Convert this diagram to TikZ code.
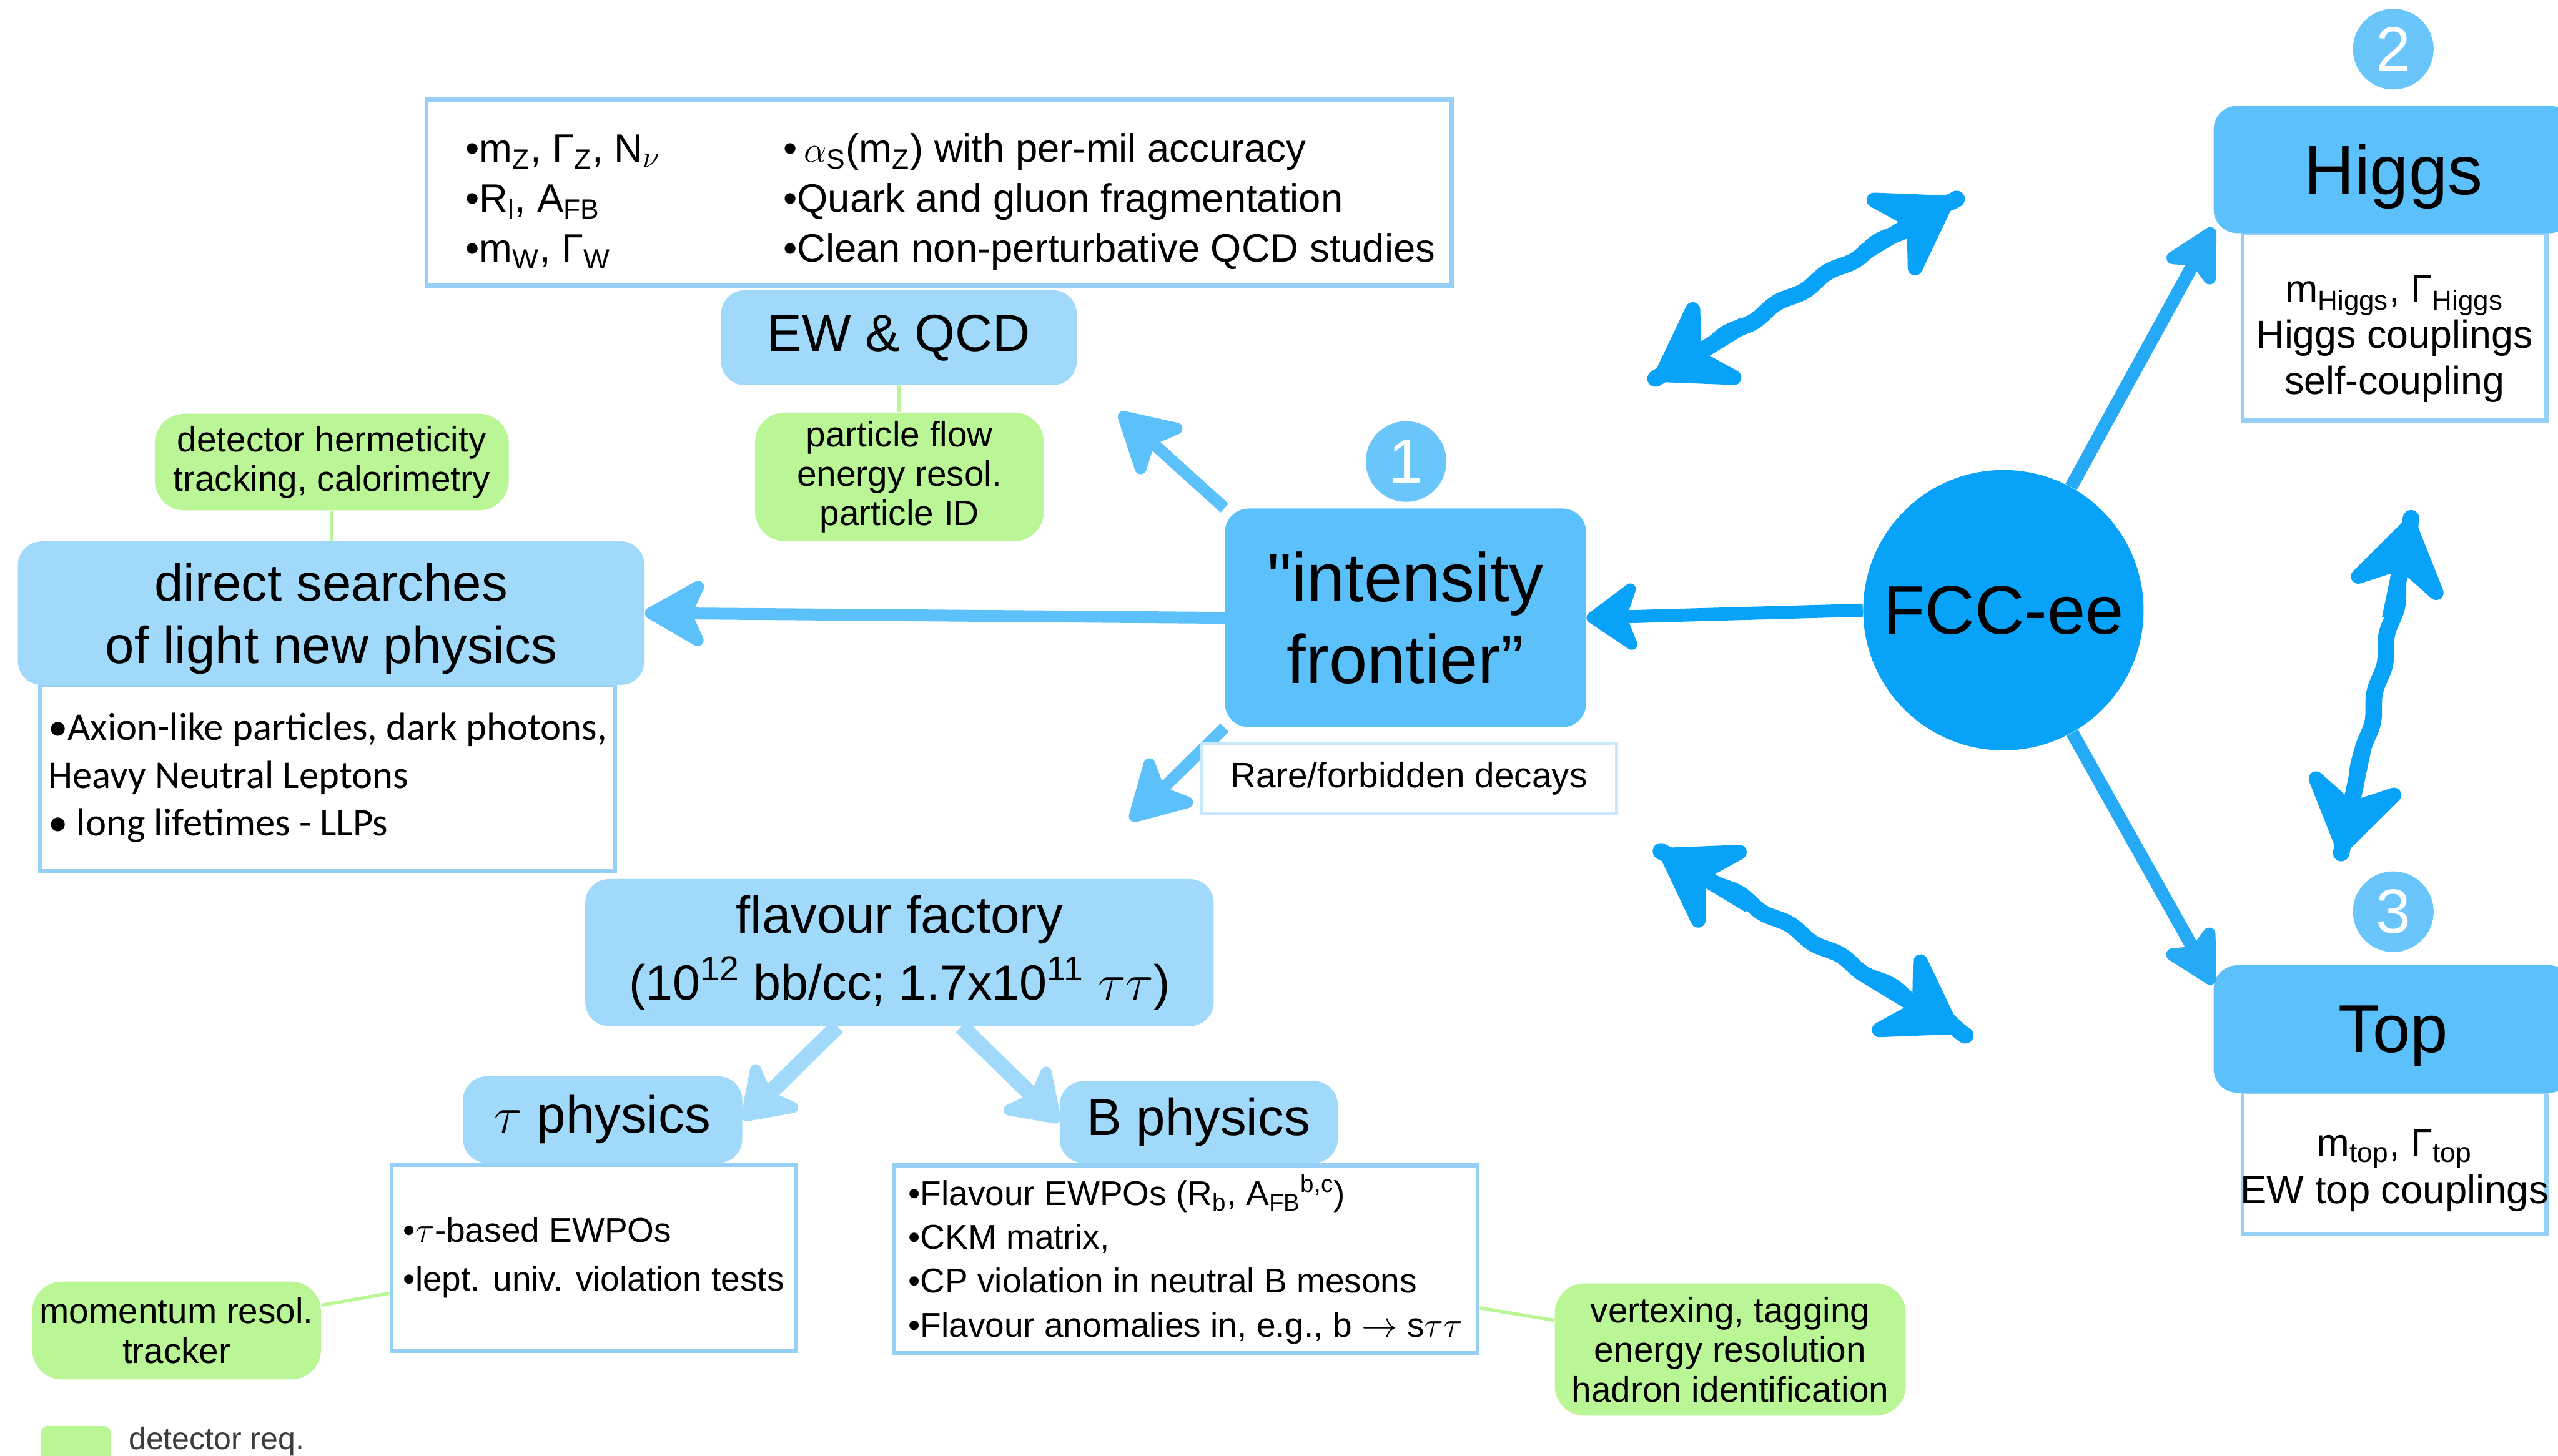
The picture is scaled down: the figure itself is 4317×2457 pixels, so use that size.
\documentclass[tikz,border=0pt]{standalone}
\usepackage{fontspec}
\setmainfont{Liberation Sans}[Ligatures=TeXOff]
\newfontfamily\calfont{Carlito}
\usepackage{tikz}
\usetikzlibrary{arrows.meta,decorations.pathmorphing,shapes,calc}

\definecolor{fccblue}{RGB}{8,163,248}
\definecolor{midblue}{RGB}{92,192,251}
\definecolor{numblue}{RGB}{106,197,250}
\definecolor{paleblue}{RGB}{160,217,250}
\definecolor{edgeblue}{RGB}{150,208,247}
\definecolor{rareedge}{RGB}{200,232,252}
\definecolor{reqgreen}{RGB}{186,246,150}
\definecolor{linkblue}{RGB}{38,170,246}
\definecolor{legendgray}{RGB}{60,60,60}

\newcommand{\fsize}[2]{\fontsize{#1}{#2}\selectfont}

\begin{document}
\begin{tikzpicture}[x=0.01cm, y=-0.01cm,
  decoration={snake, amplitude=0.035cm, segment length=1cm, pre length=1.1cm, post length=1.1cm},
  topic/.style={fill=paleblue, rounded corners=0.4cm, inner sep=0pt, align=center},
  hub/.style={fill=midblue, rounded corners=0.4cm, inner sep=0pt, align=center},
  listbox/.style={draw=edgeblue, line width=2pt, fill=white, inner sep=0pt},
  req/.style={fill=reqgreen, rounded corners=0.5cm, inner sep=0pt, align=center, font=\fsize{17}{19}},
  num/.style={circle, fill=numblue, text=white, inner sep=0pt, minimum size=1.36cm, font=\fsize{30}{30}},
  reqlink/.style={draw=reqgreen, line width=1.6pt},
  push/.style={color=midblue, line width=0.2cm, -{Stealth[length=1.2cm, width=1.35cm, inset=0.3cm, round]}},
  feed/.style={color=fccblue, line width=0.22cm, -{Stealth[length=1cm, width=1.4cm, inset=0.25cm, round]}},
  outward/.style={color=linkblue, line width=0.22cm, -{Stealth[length=1.1cm, width=1.15cm, inset=0.25cm, round]}},
  split/.style={color=paleblue, line width=0.27cm, -{Stealth[length=1cm, width=1.35cm, inset=0.25cm, round]}},
  wobble/.style={color=fccblue, line width=0.28cm, line cap=round, decorate},
  wtip/.style={color=fccblue, line width=0.28cm, -{Stealth[length=1.6cm, width=2.1cm, inset=0.6cm, round]}}
]
  \useasboundingbox (0,0) rectangle (4317,2457);
  \clip (0,0) rectangle (4317,2457);

  % EW and QCD
  \node[listbox, minimum width=17.29cm, minimum height=3.14cm] (ewlist) at (1585,325) {};
  \node[anchor=west, inner sep=0pt, font=\fsize{19}{24}] (ewtext) at (785,341) {%
    \begin{tabular}{@{}p{5.36cm}@{}l@{}}
      •m\textsubscript{Z}, Γ\textsubscript{Z}, N\textsubscript{$\nu$} & •\,$\alpha$\textsubscript{S}(m\textsubscript{Z}) with per-mil accuracy \\
      •R\textsubscript{l}, A\textsubscript{FB} & •Quark and gluon fragmentation \\
      •m\textsubscript{W}, Γ\textsubscript{W} & •Clean non-perturbative QCD studies
    \end{tabular}};
  \node[topic, minimum width=6cm, minimum height=1.6cm, font=\fsize{25}{30}] (ewqcd) at (1517,570) {EW \& QCD};
  \node[req, minimum width=4.87cm, minimum height=2.17cm] (pflow) at (1518,805) {particle flow\\energy resol.\\particle ID};

  % direct searches
  \node[req, minimum width=5.97cm, minimum height=1.63cm] (herm) at (560,780) {detector hermeticity\\tracking, calorimetry};
  \node[listbox, minimum width=9.69cm, minimum height=3.14cm, align=left, font=\calfont\fsize{18.8}{23}] (axlist) at (553,1313)
    {•Axion-like particles, dark photons,\\Heavy Neutral Leptons\\• long lifetimes - LLPs};
  \node[topic, minimum width=10.57cm, minimum height=2.42cm, text depth=0pt, font=\fsize{25}{30}] (direct) at (559,1035) {direct searches\\of light new physics};

  % intensity frontier and FCC-ee
  \node[hub, minimum width=6.09cm, minimum height=3.69cm, font=\fsize{33}{39}] (intens) at (2372,1043) {"intensity\\frontier”};
  \node[num] (one) at (2373,779) {1};
  \node[circle, fill=fccblue, minimum size=4.73cm, inner sep=0pt, font=\fsize{33}{33}] (fcc) at (3381,1030) {FCC-ee};

  % Higgs and top
  \node[listbox, minimum width=5.12cm, minimum height=3.16cm] (higgslist) at (4041,552) {};
  \node[align=center, inner sep=0pt, font=\fsize{18.8}{22}] (higgstext) at (4041,572)
    {m\textsubscript{Higgs}, Γ\textsubscript{Higgs}\\Higgs couplings\\self-coupling};
  \node[hub, minimum width=6.06cm, minimum height=2.15cm, text depth=0pt, font=\fsize{33.5}{33.5}] (higgs) at (4039,286) {Higgs};
  \node[num] (two) at (4039,83) {2};
  \node[listbox, minimum width=5.12cm, minimum height=2.39cm] (toplist) at (4041,1964) {};
  \node[align=center, inner sep=0pt, font=\fsize{19}{22.5}] (toptext) at (4041,1976)
    {m\textsubscript{top}, Γ\textsubscript{top}\\EW top couplings};
  \node[hub, minimum width=6.06cm, minimum height=2.15cm, text depth=0pt, font=\fsize{32.5}{32.5}] (top) at (4039,1737) {Top};
  \node[num] (three) at (4039,1539) {3};

  % flavour
  \node[topic, minimum width=10.6cm, minimum height=2.48cm, font=\fsize{25}{32}] (flav) at (1518,1608)
    {flavour factory\\{\fsize{23.7}{32}(10\textsuperscript{12} bb/cc; 1.7x10\textsuperscript{11} $\tau\tau$)}};
  \node[listbox, minimum width=6.82cm, minimum height=3.14cm, align=left, font=\fsize{16.5}{23.5}] (taulist) at (1002,2123)
    {•$\tau$-based EWPOs\\•lept. univ. violation tests};
  \node[listbox, minimum width=9.85cm, minimum height=3.17cm, align=left, font=\fsize{16.5}{21}] (blist) at (2001,2126)
    {•Flavour EWPOs (R\textsubscript{b}, A\textsubscript{FB}\textsuperscript{b,c})\\•CKM matrix,\\•CP violation in neutral B mesons\\•Flavour anomalies in, e.g., b $\rightarrow$ s$\tau\tau$};
  \node[topic, minimum width=4.71cm, minimum height=1.46cm, font=\fsize{25}{30}] (tau) at (1017,1890) {$\tau$ physics};
  \node[topic, minimum width=4.69cm, minimum height=1.38cm, font=\fsize{25}{30}] (bphys) at (2023,1894) {B physics};
  \node[req, minimum width=4.87cm, minimum height=1.65cm] (mom) at (298,2246) {momentum resol.\\tracker};
  \node[req, minimum width=5.92cm, minimum height=2.23cm] (vtx) at (2920,2278) {vertexing, tagging\\energy resolution\\hadron identification};

  % legend
  \node[fill=reqgreen, rounded corners=0.12cm, minimum width=1.18cm, minimum height=0.62cm] (swatch) at (128,2438) {};
  \node[anchor=west, text=legendgray, font=\fsize{15}{15}] (legend) at (205,2433) {detector req.};

  \coordinate (upleft) at (1889,697);
  \coordinate (dnleft) at (1908,1385);
  \coordinate (w1a) at (2794,639);
  \coordinate (w1b) at (3295,336);
  \coordinate (w2a) at (2803,1437);
  \coordinate (w2b) at (3304,1740);
  \coordinate (w3a) at (4069,875);
  \coordinate (w3b) at (3951,1440);

  \path[reqlink] (herm) edge (direct)
    (pflow) edge (ewqcd)
    (mom) edge (taulist)
    (vtx) edge (blist);
  \path[push] (intens.west) edge (direct.east)
    (intens.north west) edge (upleft)
    (intens.south west) edge (dnleft);
  \path[feed] (fcc.west) edge (intens.east);
  \path[outward] (fcc) edge (higgs.198)
    (fcc) edge (top.166);
  \path[split] (flav.230) edge (tau.east)
    (flav.310) edge (bphys.west);
%  hand-drawn double arrows: wavy shaft, heads on top
  \draw[wobble] (w1a) -- (w1b) (w2a) -- (w2b) (w3a) -- (w3b);
  \path[wtip] ($(w1a)!0.3!(w1b)$) edge (w1a)
    ($(w1b)!0.3!(w1a)$) edge (w1b)
    ($(w2a)!0.3!(w2b)$) edge (w2a)
    ($(w2b)!0.3!(w2a)$) edge (w2b)
    ($(w3a)!0.3!(w3b)$) edge (w3a)
    ($(w3b)!0.3!(w3a)$) edge (w3b);

  \node[draw=rareedge, line width=1.5pt, fill=white, minimum width=6.99cm, minimum height=1.19cm, font=\fsize{17}{20}] (rare) at (2378,1314) {Rare/forbidden decays};
\end{tikzpicture}
\end{document}
